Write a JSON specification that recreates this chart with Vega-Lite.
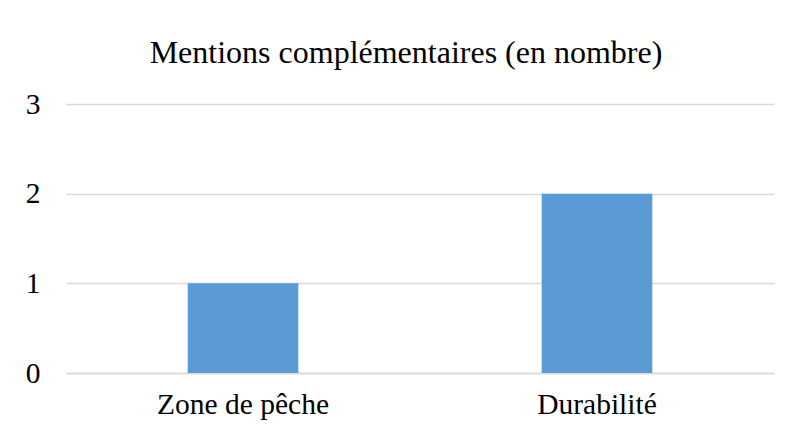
{
  "$schema": "https://vega.github.io/schema/vega-lite/v6.json",
  "autosize": "none",
  "width": 708,
  "height": 269,
  "padding": {"left": 66, "top": 104, "right": 18, "bottom": 57},
  "background": "white",
  "config": {"view": {"stroke": null}, "font": "Liberation Serif"},
  "title": {
    "text": "Mentions complémentaires (en nombre)",
    "font": "Liberation Serif",
    "fontSize": 32,
    "fontWeight": "normal",
    "color": "#000000",
    "anchor": "middle",
    "frame": "group",
    "baseline": "alphabetic",
    "offset": -6,
    "dx": -14
  },
  "data": {"values": [
    {"categorie": "Zone de pêche", "nombre": 1},
    {"categorie": "Durabilité", "nombre": 2}
  ]},
  "mark": {"type": "bar", "color": "#5B9BD5", "width": {"band": 0.3125}},
  "encoding": {
    "x": {
      "field": "categorie", "type": "nominal", "sort": null,
      "scale": {"paddingInner": 0, "paddingOuter": 0},
      "axis": {"title": null, "labelAngle": 0, "labelFont": "Liberation Serif", "labelFontSize": 29.5, "labelColor": "#000000", "ticks": false, "labelPadding": 17, "domainColor": "#D9D9D9", "domainWidth": 1.5}
    },
    "y": {
      "field": "nombre", "type": "quantitative",
      "scale": {"domain": [0, 3], "nice": false},
      "axis": {"title": null, "values": [0, 1, 2, 3], "format": "d", "labelFont": "Liberation Serif", "labelFontSize": 29.5, "labelColor": "#000000", "ticks": false, "domain": false, "labelPadding": 26, "gridColor": "#D9D9D9", "gridWidth": 1.5}
    }
  }
}
